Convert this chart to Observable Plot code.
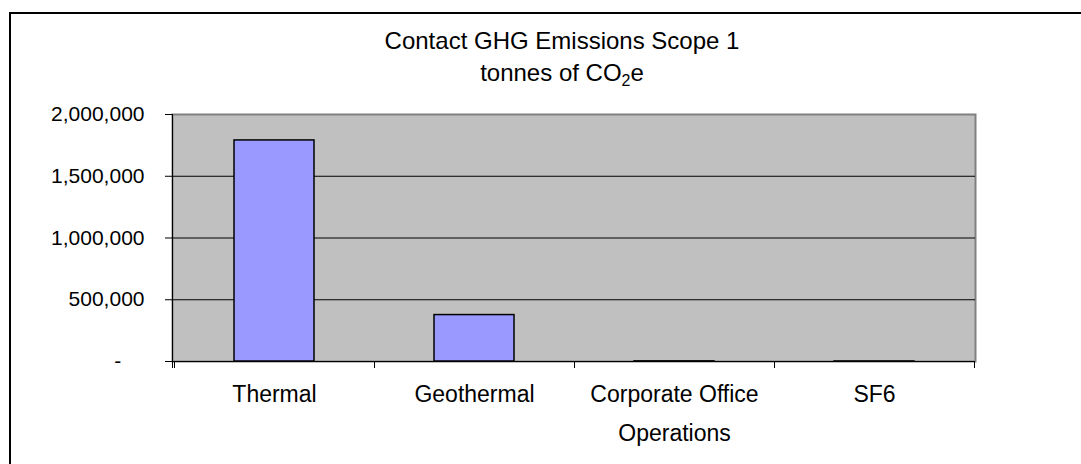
<!DOCTYPE html>
<html><head><meta charset="utf-8">
<script src="https://cdn.jsdelivr.net/npm/d3@7"></script>
<script src="https://cdn.jsdelivr.net/npm/@observablehq/plot@0.6"></script>
<style>
body{margin:0;background:#fff;font-family:Arial,"Liberation Sans",sans-serif;}
#wrap{position:relative;width:1081px;height:464px;overflow:hidden;background:#fff;}
#frame{position:absolute;left:9px;top:12px;width:2000px;height:2000px;border-left:2px solid #000;border-top:2px solid #000;}
.t{position:absolute;left:0;width:1124px;text-align:center;font-size:24px;color:#000;line-height:24px;white-space:nowrap;}
.t sub{font-size:16px;vertical-align:-5px;line-height:0;}
#chart{position:absolute;left:0;top:0;}
</style></head>
<body><div id="wrap"><div id="frame"></div><div id="chart"></div>
<div class="t" style="top:29px">Contact GHG Emissions Scope 1</div>
<div class="t" style="top:61px">tonnes of CO<sub>2</sub>e</div>
</div>
<script>
const categories = ["Thermal", "Geothermal", "Corporate Office\nOperations", "SF6"];
const emissions = [1790000, 376000, 1200, 300];
const yTicks = [0, 500000, 1000000, 1500000, 2000000];
const gridValues = [500000, 1000000, 1500000];

const data = categories.map((c, i) => ({category: c, value: emissions[i]}));

function axisLines(index, scales, values, dims) {
  const {width, height, marginLeft, marginRight, marginTop, marginBottom} = dims;
  const x = scales.x;
  const y0 = height - marginBottom;
  const step = x.step ? x.step() : (width - marginLeft - marginRight) / categories.length;
  const off = (step - x.bandwidth()) / 2;
  const bounds = categories.map(c => x(c) - off);
  bounds.push(x(categories[categories.length - 1]) + x.bandwidth() + off);
  const g = d3.create("svg:g").attr("stroke", "#000").attr("stroke-width", 1).attr("shape-rendering", "crispEdges");
  g.append("line").attr("x1", marginLeft).attr("x2", width - marginRight).attr("y1", y0).attr("y2", y0);
  g.append("line").attr("x1", marginLeft).attr("x2", marginLeft).attr("y1", marginTop).attr("y2", y0 + 7);
  g.selectAll(null).data(bounds).join("line")
    .attr("x1", d => d).attr("x2", d => d).attr("y1", y0).attr("y2", y0 + 7);
  return g.node();
}

const chart = Plot.plot({
  width: 1081,
  height: 464,
  marginLeft: 172,
  marginRight: 106,
  marginTop: 114,
  marginBottom: 103,
  style: {fontFamily: "Arial, 'Liberation Sans', sans-serif", fontSize: "21px", background: "transparent", color: "#000", overflow: "visible"},
  x: {domain: categories, paddingInner: 0.6, paddingOuter: 0.3, label: null},
  y: {domain: [0, 2000000], label: null},
  marks: [
    Plot.frame({fill: "#C0C0C0", stroke: "#808080", strokeWidth: 2}),
    Plot.ruleY(gridValues, {stroke: "#000", strokeWidth: 1}),
    Plot.barY(data, {x: "category", y: "value", fill: "#9999FF", stroke: "#000", strokeWidth: 1.5}),
    Plot.axisY({ticks: yTicks, tickSize: 7, tickPadding: 21, fontSize: 21, stroke: "#000",
      tickFormat: d => d === 0 ? "-" + "\u00a0".repeat(4) : d3.format(",")(d)}),
    Plot.axisX({tickSize: 0, tickPadding: 13, fontSize: 23, lineHeight: 1.7}),
    axisLines
  ]
});
document.getElementById("chart").appendChild(chart);
</script>
</body></html>
